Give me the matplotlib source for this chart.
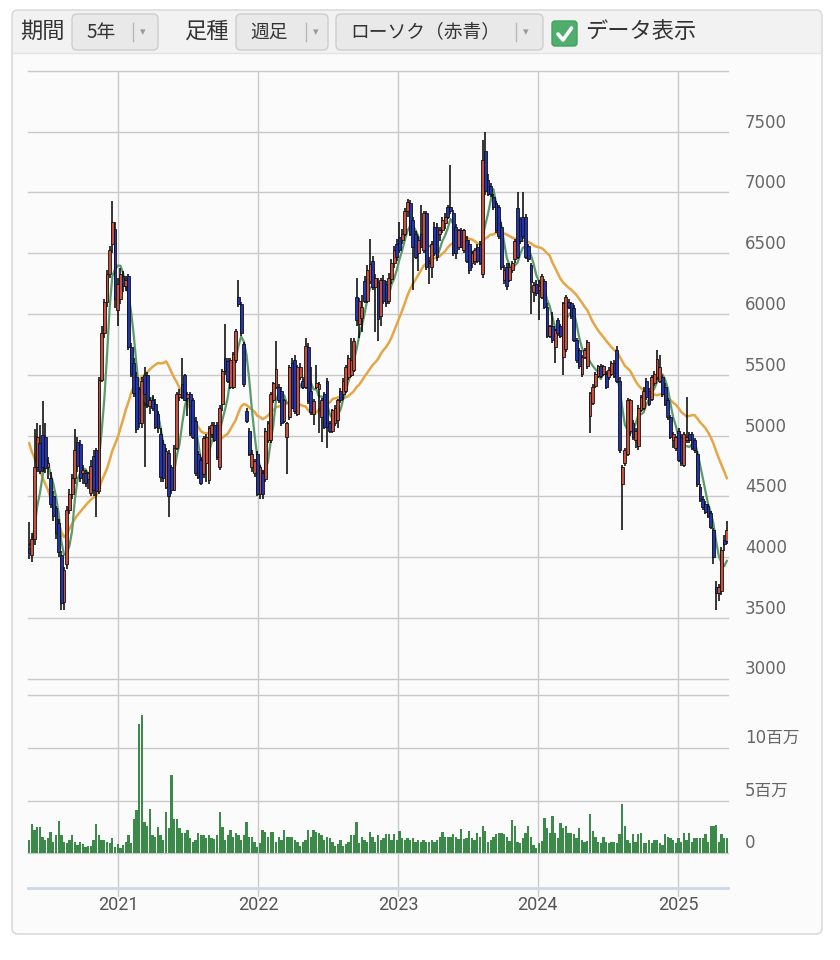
import numpy as np
import pandas as pd
import matplotlib
matplotlib.use('Agg')
import matplotlib.pyplot as plt
import matplotlib.dates as mdates
from matplotlib.patches import FancyBboxPatch, Rectangle
from matplotlib.lines import Line2D
from matplotlib.transforms import ScaledTranslation, blended_transform_factory

plt.rcParams['font.family'] = ['DejaVu Sans', 'Noto Sans CJK JP']

# ---------------- data (weekly candles, May 2020 - May 2025) ----------------
first_week = '2020-05-14'

open_ = [
    4070, 4020, 4150, 4740, 4940, 5000, 4990, 4740, 4650, 4500,
    4400, 4280, 4020, 3630, 3940, 4390, 4520, 4650, 4950, 4930,
    4690, 4690, 4640, 4530, 4830, 4880, 4540, 5460, 5840, 6100,
    6330, 6580, 6700, 6030, 6120, 6310, 6230, 6310, 5730, 5600,
    5480, 5380, 5100, 5500, 5500, 5240, 5290, 5260, 5180, 5010,
    4930, 4580, 4860, 4740, 4550, 4900, 5320, 5420, 5500, 5310,
    5340, 5290, 5120, 4850, 4800, 4680, 4770, 4630, 5010, 5090,
    5090, 4740, 5260, 5640, 5610, 5400, 5400, 5620, 6140, 6080,
    5750, 5200, 5040, 4740, 4690, 4850, 4520, 4690, 4640, 4960,
    4960, 5290, 5400, 5400, 5370, 5120, 4990, 5150, 5600, 5620,
    5180, 5480, 5450, 5400, 5730, 5370, 5180, 5400, 5380, 5150,
    5340, 5450, 5100, 5040, 5100, 5130, 5370, 5340, 5370, 5480,
    5500, 5540, 6140, 5920, 5970, 6270, 6110, 6270, 6440, 6220,
    6260, 5980, 6280, 6250, 6110, 6290, 6420, 6580, 6630, 6610,
    6660, 6850, 6910, 6770, 6660, 6500, 6660, 6530, 6830, 6440,
    6390, 6720, 6720, 6660, 6690, 6750, 6880, 6880, 6830, 6720,
    6550, 6690, 6530, 6610, 6580, 6420, 6440, 6550, 6580, 6330,
    7340, 7100, 7050, 6960, 6910, 6880, 6720, 6280, 6390, 6280,
    6360, 6450, 6870, 6780, 6800, 6800, 6560, 6400, 6180, 6250,
    6200, 6140, 6270, 6060, 5820, 5900, 5730, 5950, 5900, 5650,
    5710, 6100, 6090, 6050, 5790, 5700, 5510, 5650, 5570, 5160,
    5270, 5410, 5490, 5570, 5510, 5510, 5480, 5510, 5600, 5700,
    5450, 4600, 4770, 4850, 5040, 5100, 4960, 4910, 5210, 5230,
    5450, 5370, 5300, 5430, 5480, 5450, 5480, 5400, 5290, 5150,
    4960, 4900, 5040, 4990, 4760, 4960, 5010, 5010, 4960, 4850,
    4580, 4480, 4440, 4420, 4360, 4220, 3750, 3700, 3720, 4140,
    4130,
]
high = [
    4290, 4200, 5050, 5100, 5090, 5280, 5100, 4820, 4700, 4540,
    4420, 4310, 4050, 3920, 4420, 4560, 4680, 5050, 4990, 4960,
    4760, 4720, 4700, 4800, 4880, 4900, 5480, 5900, 6120, 6360,
    6560, 6930, 6760, 6300, 6380, 6350, 6310, 6330, 5760, 5640,
    5520, 5400, 5480, 5560, 5520, 5320, 5330, 5300, 5200, 5060,
    4960, 4900, 4880, 4760, 4920, 5360, 5380, 5640, 5510, 5360,
    5360, 5310, 5150, 4870, 4820, 5000, 5010, 5080, 5110, 5110,
    5110, 5250, 5550, 5920, 5640, 5640, 5690, 5880, 6280, 6100,
    5770, 5230, 5060, 4880, 4810, 4870, 4760, 4720, 5060, 5120,
    5360, 5440, 5780, 5420, 5400, 5300, 5110, 5580, 5640, 5660,
    5580, 5600, 5480, 5800, 5760, 5560, 5300, 5580, 5440, 5310,
    5360, 5470, 5120, 5220, 5250, 5300, 5390, 5470, 5580, 5660,
    5800, 5800, 6300, 6130, 6160, 6310, 6400, 6620, 6480, 6330,
    6300, 6300, 6320, 6270, 6340, 6450, 6560, 6620, 6760, 6700,
    6870, 6950, 6940, 6800, 6680, 6640, 6900, 6850, 6850, 6470,
    6600, 6760, 6750, 6720, 6800, 6830, 6900, 7230, 6860, 6740,
    6700, 6710, 6700, 6640, 6610, 6520, 6540, 6580, 6600, 7430,
    7500, 7150, 7080, 6990, 6930, 6900, 6760, 6400, 6420, 6420,
    6440, 6620, 7000, 6800, 7000, 6820, 6580, 6420, 6260, 6280,
    6280, 6330, 6290, 6090, 5910, 6020, 5880, 5970, 5920, 6100,
    6160, 6120, 6100, 6070, 5800, 5720, 5660, 5720, 5790, 5360,
    5420, 5520, 5580, 5590, 5580, 5530, 5560, 5610, 5620, 5740,
    5480, 4760, 4900, 5310, 5300, 5130, 5060, 5250, 5330, 5400,
    5470, 5390, 5500, 5530, 5700, 5660, 5500, 5430, 5310, 5170,
    5030, 5000, 5060, 5010, 5030, 5320, 5030, 5030, 4980, 4870,
    4600, 4500, 4460, 4440, 4380, 4240, 3800, 3780, 4080, 4180,
    4300,
]
low = [
    3980, 3960, 4100, 4700, 4680, 4700, 4690, 4640, 4400, 4300,
    4150, 4000, 3560, 3560, 3900, 4350, 4480, 4600, 4700, 4620,
    4600, 4580, 4560, 4500, 4500, 4330, 4520, 5440, 5800, 6060,
    6300, 6500, 6050, 5900, 6080, 6180, 6190, 5700, 5480, 5320,
    5020, 5060, 5060, 4740, 5230, 5180, 5200, 5050, 5020, 4620,
    4620, 4560, 4330, 4520, 4540, 4880, 5280, 5300, 5280, 5160,
    5000, 4970, 4670, 4640, 4590, 4650, 4620, 4600, 4980, 4950,
    4800, 4720, 5200, 5500, 5430, 5380, 5380, 5600, 6060, 5820,
    5400, 5100, 4830, 4700, 4660, 4500, 4480, 4480, 4620, 4940,
    4940, 5270, 5380, 5270, 5080, 5100, 4680, 5130, 5220, 5180,
    5160, 5460, 5380, 5380, 5260, 5170, 5090, 5380, 5020, 4950,
    5050, 4900, 5020, 5020, 5080, 5060, 5270, 5290, 5350, 5460,
    5480, 5520, 5900, 5800, 5850, 6090, 6090, 6250, 6200, 5850,
    5780, 5900, 6080, 6060, 6080, 6250, 6380, 6440, 6500, 6580,
    6640, 6800, 6640, 6200, 6450, 6350, 6540, 6500, 6360, 6250,
    6300, 6480, 6440, 6600, 6670, 6700, 6780, 6820, 6480, 6450,
    6530, 6540, 6500, 6420, 6330, 6380, 6400, 6420, 6400, 6300,
    6980, 6970, 6960, 6860, 6670, 6620, 6360, 6250, 6200, 6260,
    6340, 6420, 6450, 6580, 6620, 6450, 6430, 6000, 6100, 6150,
    5950, 6120, 6040, 5800, 5800, 5760, 5600, 5820, 5800, 5500,
    5690, 6040, 5960, 5770, 5600, 5550, 5480, 5630, 5550, 5020,
    5250, 5390, 5470, 5470, 5490, 5380, 5460, 5490, 5470, 5430,
    4860, 4220, 4750, 4830, 5000, 4960, 4900, 4880, 5190, 5210,
    5290, 5240, 5280, 5410, 5460, 5430, 5320, 5240, 5130, 4970,
    4900, 4870, 4780, 4750, 4740, 4940, 4940, 4880, 4860, 4580,
    4450, 4390, 4350, 4320, 4230, 3940, 3560, 3640, 3690, 4050,
    4110,
]
close = [
    4030, 4150, 4740, 4990, 4710, 4740, 4730, 4770, 4440, 4340,
    4200, 4040, 3620, 3890, 4390, 4520, 4650, 4880, 4750, 4650,
    4720, 4610, 4690, 4750, 4550, 4540, 5460, 5840, 6100, 6330,
    6530, 6760, 6120, 6250, 6330, 6230, 6280, 5730, 5510, 5350,
    5050, 5100, 5450, 5340, 5260, 5290, 5230, 5070, 5060, 4660,
    4650, 4870, 4500, 4550, 4900, 5340, 5340, 5320, 5290, 5340,
    5020, 4990, 4690, 4660, 4610, 4980, 4990, 5060, 5090, 4960,
    4820, 5230, 5530, 5530, 5450, 5620, 5670, 5860, 6080, 5840,
    5420, 5120, 4850, 4850, 4790, 4520, 4740, 4520, 5040, 5100,
    5340, 5430, 5550, 5290, 5100, 5290, 5100, 5560, 5230, 5200,
    5560, 5560, 5400, 5740, 5280, 5190, 5280, 5430, 5420, 5290,
    5070, 5070, 5040, 5210, 5230, 5290, 5290, 5450, 5560, 5640,
    5620, 5780, 5950, 6110, 6060, 6110, 6360, 6410, 6220, 6300,
    5960, 6280, 6110, 6090, 6300, 6420, 6530, 6470, 6530, 6660,
    6850, 6920, 6660, 6550, 6470, 6610, 6550, 6830, 6390, 6420,
    6580, 6500, 6470, 6690, 6770, 6800, 6800, 6850, 6500, 6500,
    6690, 6550, 6690, 6440, 6360, 6500, 6530, 6440, 6420, 7270,
    7010, 6990, 6990, 6880, 6690, 6640, 6390, 6360, 6230, 6390,
    6420, 6600, 6470, 6600, 6640, 6470, 6450, 6260, 6240, 6170,
    6230, 6310, 6060, 5820, 5900, 5790, 5870, 5840, 5820, 6090,
    6140, 6060, 5980, 5790, 5620, 5570, 5650, 5700, 5770, 5350,
    5400, 5510, 5570, 5490, 5570, 5400, 5540, 5600, 5490, 5450,
    4880, 4740, 4880, 5290, 5290, 4990, 5040, 5230, 5320, 5370,
    5320, 5260, 5480, 5510, 5630, 5560, 5340, 5260, 5150, 4990,
    5010, 4990, 4800, 4770, 5010, 4990, 4960, 4900, 4880, 4600,
    4470, 4410, 4370, 4340, 4250, 4000, 3700, 3750, 4060, 4110,
    4220,
]
# weekly closes before the window (only feed the moving averages)
pre_close = [6000, 6100, 6200, 6150, 6250, 6100, 6050, 6150, 6000, 6050,
             5885, 5600, 4900, 3800, 3400, 3600, 3800, 3900, 4000, 4000,
             3930, 4050, 4150, 4100, 4170]
# weekly volume, millions of shares
volume_m = [
    1.3, 2.8, 2.2, 2.5, 2.5, 1.6, 1.3, 1.5, 2.0, 1.1,
    1.7, 3.1, 1.7, 1.1, 1.0, 1.3, 1.7, 1.1, 0.8, 1.1,
    0.9, 0.6, 0.7, 0.7, 1.3, 2.8, 1.7, 1.3, 1.3, 1.1,
    1.0, 1.5, 0.6, 0.9, 0.5, 0.8, 1.1, 1.7, 1.0, 3.3,
    4.1, 12.3, 13.1, 3.0, 2.6, 4.2, 1.7, 1.6, 2.5, 1.7,
    1.3, 3.9, 2.4, 7.4, 3.3, 3.3, 2.4, 1.9, 1.9, 2.2,
    1.5, 1.1, 1.3, 1.9, 1.7, 1.7, 1.5, 1.7, 1.5, 1.4,
    1.7, 3.9, 2.5, 1.3, 1.7, 2.2, 1.6, 1.9, 1.7, 1.3,
    1.7, 3.0, 1.6, 1.6, 1.1, 0.6, 1.0, 2.2, 2.0, 1.6,
    2.0, 2.0, 1.1, 1.6, 1.3, 2.2, 1.6, 1.6, 1.6, 1.3,
    1.1, 0.7, 1.1, 1.3, 2.2, 1.6, 2.2, 2.0, 1.9, 1.7,
    1.3, 1.6, 1.5, 1.1, 0.7, 0.9, 1.3, 0.7, 0.9, 1.1,
    1.7, 1.7, 3.0, 1.0, 1.6, 1.3, 1.1, 2.0, 1.6, 1.1,
    1.7, 1.3, 1.5, 1.8, 1.8, 1.3, 1.8, 1.3, 2.1, 1.5,
    1.3, 1.5, 1.3, 1.5, 1.1, 1.3, 1.1, 1.3, 1.1, 1.1,
    1.3, 1.1, 1.3, 1.6, 2.0, 1.6, 1.6, 1.6, 1.8, 1.6,
    1.4, 2.3, 1.4, 1.5, 2.1, 1.5, 1.3, 1.9, 1.6, 2.6,
    2.1, 1.1, 1.3, 1.6, 1.8, 1.9, 1.9, 1.8, 1.6, 1.2,
    3.2, 2.6, 1.1, 1.0, 1.5, 1.9, 2.6, 1.6, 0.8, 0.5,
    1.0, 1.2, 3.4, 2.4, 1.9, 3.5, 1.9, 1.5, 2.9, 2.4,
    2.6, 1.9, 1.9, 1.8, 1.5, 2.4, 1.3, 1.1, 1.2, 3.7,
    2.1, 1.6, 1.1, 1.0, 1.6, 1.1, 1.0, 1.1, 1.1, 1.0,
    1.8, 4.7, 2.6, 1.3, 1.0, 1.8, 1.1, 1.8, 1.9, 1.0,
    1.0, 1.3, 1.0, 1.3, 1.3, 1.0, 0.8, 1.8, 1.6, 1.5,
    1.3, 1.0, 1.5, 1.1, 1.9, 1.3, 1.9, 1.1, 1.5, 1.5,
    1.5, 1.5, 1.8, 1.1, 2.6, 2.6, 2.7, 1.1, 1.8, 1.5,
    1.5,
]
price_ticks = [3000, 3500, 4000, 4500, 5000, 5500, 6000, 6500, 7000, 7500]
volume_ticks = [0, 5e6, 10e6]
volume_tick_labels = ['0', '5百万', '10百万']
year_ticks = ['2021-01-01', '2022-01-01', '2023-01-01', '2024-01-01', '2025-01-01']
year_labels = ['2021', '2022', '2023', '2024', '2025']

# ---------------- derived ----------------
o = np.array(open_, float); h = np.array(high, float)
l = np.array(low, float); c = np.array(close, float)
vol = np.array(volume_m) * 1e6
dates = pd.date_range(first_week, periods=len(c), freq='7D')
xd = mdates.date2num(dates)
allc = pd.Series(pre_close + close, dtype=float)
ma5 = allc.rolling(5).mean().values[len(pre_close):]
ma26 = allc.rolling(26).mean().values[len(pre_close):]
up = c >= o

xmin = mdates.date2num(pd.Timestamp('2020-05-11'))
xmax = mdates.date2num(pd.Timestamp('2025-05-11'))

# ---------------- figure / frame ----------------
W, H = 840, 960
fig = plt.figure(figsize=(W / 100, H / 100), dpi=100)
fig.patch.set_facecolor('white')
IN = fig.dpi_scale_trans


def P(xp, yp):
    return (xp / 100, (H - yp) / 100)


fig.add_artist(FancyBboxPatch(P(12, 934), 8.10, 9.24,
                              boxstyle='round,pad=0,rounding_size=0.06',
                              transform=IN, facecolor='#fbfbfb',
                              edgecolor='#d4d4d4', lw=1.0, zorder=0))
fig.add_artist(FancyBboxPatch(P(13, 53), 8.08, 0.42,
                              boxstyle='round,pad=0,rounding_size=0.05',
                              transform=IN, facecolor='#f2f2f2',
                              edgecolor='none', zorder=0.5))
fig.add_artist(Rectangle(P(13, 53), 8.08, 0.1, transform=IN,
                         facecolor='#f2f2f2', edgecolor='none', zorder=0.5))
fig.add_artist(Line2D([0.13, 8.21], [(H - 53) / 100] * 2, transform=IN,
                      color='#e3e3e3', lw=1, zorder=0.6))

jp = ['Noto Sans CJK JP', 'DejaVu Sans']


def button(x0, x1, label, sep):
    fig.add_artist(FancyBboxPatch(P(x0, 50), (x1 - x0) / 100, 0.36,
                                  boxstyle='round,pad=0,rounding_size=0.05',
                                  transform=IN, facecolor='#e9e9e9',
                                  edgecolor='#cdcdcd', lw=1, zorder=1))
    fig.text(*P(x0 + 14, 32), label, transform=IN, ha='left', va='center',
             fontsize=13.5, color='#333333', family=jp, zorder=2)
    fig.add_artist(Line2D([sep / 100] * 2, [(H - 23) / 100, (H - 41) / 100],
                          transform=IN, color='#b8b8b8', lw=1, zorder=2))
    fig.text(*P(sep + 10, 32), '▾', transform=IN, ha='center', va='center',
             fontsize=8, color='#999999', zorder=2)


fig.text(*P(20, 31), '期間', transform=IN, ha='left', va='center',
         fontsize=16, color='#333333', family=jp)
button(72, 158, '5年', 133)
fig.text(*P(184, 31), '足種', transform=IN, ha='left', va='center',
         fontsize=16, color='#333333', family=jp)
button(236, 328, '週足', 306)
button(336, 543, 'ローソク（赤青）', 516)
fig.add_artist(FancyBboxPatch(P(552, 46), 0.25, 0.25,
                              boxstyle='round,pad=0,rounding_size=0.03',
                              transform=IN, facecolor='#4fae6c',
                              edgecolor='#46a062', lw=1, zorder=1))
fig.add_artist(Line2D([5.58, 5.63, 5.715], [(H - 34) / 100, (H - 40) / 100, (H - 28) / 100],
                      transform=IN, color='white', lw=2.6, zorder=2,
                      solid_capstyle='round', solid_joinstyle='round'))
fig.text(*P(585, 31), 'データ表示', transform=IN, ha='left', va='center',
         fontsize=16, color='#333333', family=jp)

# ---------------- axes ----------------
L0, R0 = 28, 728
yp_top, yp_bot = 71, 678.5
yv_top, yv_bot = 695, 888


def add_ax(ytop, ybot):
    ax = fig.add_axes([L0 / W, 1 - ybot / H, (R0 - L0) / W, (ybot - ytop) / H])
    ax.patch.set_alpha(0)
    for s in ax.spines.values():
        s.set_visible(False)
    ax.set_xticks([]); ax.set_yticks([])
    ax.set_xlim(xmin, xmax)
    return ax


axbg = add_ax(yp_top, 897)
axbg.set_ylim(0, 1)
for yt in year_ticks:
    axbg.axvline(mdates.date2num(pd.Timestamp(yt)), color='#c9c9c9', lw=1, zorder=0)

axp = add_ax(yp_top, yp_bot)
axp.set_ylim(3000, 8000)
for v in price_ticks + [8000]:
    axp.axhline(v, color='#c9c9c9', lw=1, zorder=0, clip_on=False)

axv = add_ax(yv_top, yv_bot)
axv.set_ylim(-3.27e6, 15e6)
for v in volume_ticks + [15e6]:
    axv.axhline(v, color='#c9c9c9', lw=1, zorder=0, clip_on=False)
axv.axhline(-3.27e6, color='#ccd6eb', lw=2, zorder=3, clip_on=False)

# moving averages
axp.plot(xd, ma26, color='#e6a646', lw=1.8, zorder=2)
axp.plot(xd, ma5, color='#5b9a6b', lw=1.6, zorder=2)

# candles
axp.vlines(xd, l, h, color='black', lw=1.1, zorder=3)
body_lo = np.minimum(o, c)
body_h = np.maximum(np.abs(c - o), 15)
axp.bar(xd, body_h, bottom=body_lo, width=7.4,
        color=np.where(up, '#c8503c', '#2234ae'),
        edgecolor='#111111', linewidth=0.6, zorder=4)

# volume
axv.bar(xd, vol, width=6.0, color='#3c8a4a', edgecolor='none', zorder=2)

# ---------------- labels ----------------
tp = axp.get_yaxis_transform() + ScaledTranslation(0.17, 0.09, IN)
for v in price_ticks:
    axp.text(1.0, v, str(v), transform=tp, ha='left', va='center',
             fontsize=12, color='#666666')
tv = axv.get_yaxis_transform() + ScaledTranslation(0.17, 0.10, IN)
for v, s in zip(volume_ticks, volume_tick_labels):
    axv.text(1.0, v, s, transform=tv, ha='left', va='center', fontsize=12,
             color='#666666', family=['DejaVu Sans', 'Noto Sans CJK JP'])
tx = blended_transform_factory(axv.transData, axv.transAxes) + ScaledTranslation(0, -0.17, IN)
for yt, s in zip(year_ticks, year_labels):
    xv = mdates.date2num(pd.Timestamp(yt))
    axv.text(xv, 0, s, transform=tx, ha='center', va='center', fontsize=13,
             color='#555555', family=['Roboto', 'DejaVu Sans'])

fig.savefig('out.png', dpi=100)
